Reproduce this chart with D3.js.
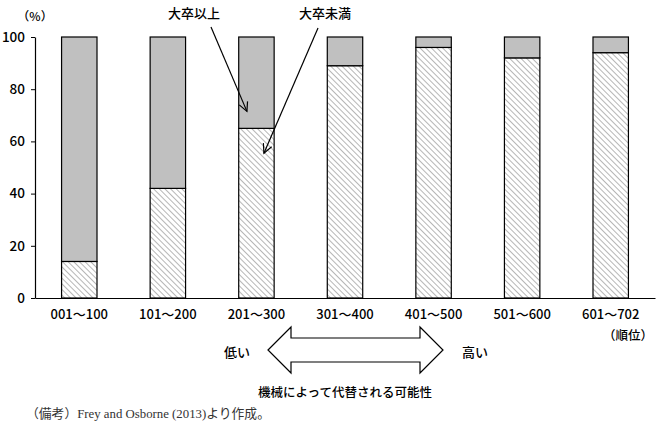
<!DOCTYPE html>
<html>
<head>
<meta charset="utf-8">
<script src="https://cdn.jsdelivr.net/npm/d3@7"></script>
<style>
  body { margin: 0; background: #fff; }
  text { font-family: "Noto Sans CJK JP", "Noto Sans", sans-serif; font-weight: 500; }
</style>
</head>
<body>
<svg id="drawing_region"></svg>
<script>
// 順位帯ごとの学歴構成（%）
const categories = ["001～100", "101～200", "201～300", "301～400", "401～500", "501～600", "601～702"];
const below_univ = [14, 42, 65, 89, 96, 92, 94];   // 大卒未満（斜線）
const above_univ = [86, 58, 35, 11, 4, 8, 6];      // 大卒以上（灰色）
const y_ticks = [0, 20, 40, 60, 80, 100];

const width = 660, height = 427;
const margin = {top: 37, right: 5, bottom: 129, left: 35};
const inner_w = width - margin.left - margin.right;
const inner_h = height - margin.top - margin.bottom;

const svg = d3.select('#drawing_region')
    .attr('width', width)
    .attr('height', height);

// hatch pattern
const defs = svg.append('defs');
defs.append('pattern')
    .attr('id', 'hatch')
    .attr('patternUnits', 'userSpaceOnUse')
    .attr('width', 4)
    .attr('height', 4)
    .attr('patternTransform', 'rotate(-45)')
    .call(p => {
        p.append('rect').attr('width', 4).attr('height', 4).attr('fill', '#fff');
        p.append('line').attr('x1', 0).attr('y1', 0).attr('x2', 0).attr('y2', 4)
            .attr('stroke', '#7a7a7a').attr('stroke-width', 1.1);
    });

const marker = defs.append('marker')
    .attr('id', 'vhead')
    .attr('viewBox', '-10 -6 12 12')
    .attr('refX', 0).attr('refY', 0)
    .attr('markerWidth', 12).attr('markerHeight', 12)
    .attr('markerUnits', 'userSpaceOnUse')
    .attr('orient', 'auto');
marker.append('path')
    .attr('d', 'M-9,-4.5 L0,0 L-9,4.5')
    .attr('fill', 'none').attr('stroke', '#000').attr('stroke-width', 1.2);

const chart = svg.append('g')
    .attr('transform', `translate(${margin.left}, ${margin.top})`);

const xscale = d3.scaleBand()
    .domain(categories)
    .range([0, inner_w])
    .paddingInner(0.6)
    .paddingOuter(0.3);

const yscale = d3.scaleLinear()
    .domain([0, 100])
    .range([inner_h, 0]);

// bars: 大卒未満 (bottom)
chart.selectAll('rect.lower')
    .data(categories)
    .enter()
    .append('rect')
    .attr('class', 'lower')
    .attr('x', d => xscale(d))
    .attr('y', (d, i) => yscale(below_univ[i]))
    .attr('width', xscale.bandwidth())
    .attr('height', (d, i) => yscale(0) - yscale(below_univ[i]))
    .attr('fill', 'url(#hatch)')
    .attr('stroke', '#000')
    .attr('stroke-width', 1.2);

// bars: 大卒以上 (top)
chart.selectAll('rect.upper')
    .data(categories)
    .enter()
    .append('rect')
    .attr('class', 'upper')
    .attr('x', d => xscale(d))
    .attr('y', (d, i) => yscale(below_univ[i] + above_univ[i]))
    .attr('width', xscale.bandwidth())
    .attr('height', (d, i) => yscale(below_univ[i]) - yscale(below_univ[i] + above_univ[i]))
    .attr('fill', '#c0c0c0')
    .attr('stroke', '#000')
    .attr('stroke-width', 1.2);

// axes
const yaxis = d3.axisLeft(yscale).tickValues(y_ticks).tickSize(4).tickPadding(6).tickSizeOuter(0);
const yaxis_group = chart.append('g').call(yaxis);
yaxis_group.select('.domain').attr('stroke', '#000').attr('stroke-width', 1.2);
yaxis_group.selectAll('text').attr('font-size', '13.5px').attr('fill', '#000')
    .attr('font-family', '"Noto Sans CJK JP", sans-serif');

const xaxis = d3.axisBottom(xscale).tickSize(0).tickPadding(12);
const xaxis_group = chart.append('g')
    .attr('transform', `translate(0, ${inner_h})`)
    .call(xaxis);
xaxis_group.select('.domain').attr('stroke', '#000').attr('stroke-width', 1.2);
xaxis_group.selectAll('text').attr('font-size', '13px').attr('fill', '#000')
    .attr('font-family', '"Noto Sans CJK JP", sans-serif');

// unit labels
svg.append('text').attr('x', 35).attr('y', 21)
    .attr('text-anchor', 'middle').attr('font-size', '12px').text('（%）');
svg.append('text').attr('x', 628).attr('y', 340)
    .attr('text-anchor', 'middle').attr('font-size', '12.5px').text('（順位）');

// annotations
const c3 = categories[2];
const bx = xscale(c3) + xscale.bandwidth() / 2 + margin.left;
svg.append('text').attr('x', 194).attr('y', 18)
    .attr('text-anchor', 'middle').attr('font-size', '13px').text('大卒以上');
svg.append('text').attr('x', 325).attr('y', 18)
    .attr('text-anchor', 'middle').attr('font-size', '13px').text('大卒未満');
svg.append('line')
    .attr('x1', 211).attr('y1', 27)
    .attr('x2', bx - 9.5).attr('y2', yscale(71.5) + margin.top)
    .attr('stroke', '#000').attr('stroke-width', 1.2)
    .attr('marker-end', 'url(#vhead)');
svg.append('line')
    .attr('x1', 318).attr('y1', 28)
    .attr('x2', bx + 7.5).attr('y2', yscale(55.5) + margin.top)
    .attr('stroke', '#000').attr('stroke-width', 1.2)
    .attr('marker-end', 'url(#vhead)');

// double arrow
const arrow_cy = 350;
svg.append('path')
    .attr('d', `M268,${arrow_cy} L291,327 L291,338 L420,338 L420,327 L443,${arrow_cy} L420,373 L420,362 L291,362 L291,373 Z`)
    .attr('fill', '#fff').attr('stroke', '#000').attr('stroke-width', 1.2);
svg.append('text').attr('x', 237).attr('y', 357)
    .attr('text-anchor', 'middle').attr('font-size', '13px').text('低い');
svg.append('text').attr('x', 475).attr('y', 357)
    .attr('text-anchor', 'middle').attr('font-size', '13px').text('高い');
svg.append('text').attr('x', 345).attr('y', 397)
    .attr('text-anchor', 'middle').attr('font-size', '12.5px').text('機械によって代替される可能性');

// note
svg.append('text').attr('x', 26).attr('y', 418)
    .attr('font-size', '12.8px').attr('fill', '#333')
    .style('font-family', '"Liberation Serif", "Noto Sans CJK JP", serif')
    .style('font-weight', 400)
    .text('（備考）Frey and Osborne (2013)より作成。');
</script>
</body>
</html>
